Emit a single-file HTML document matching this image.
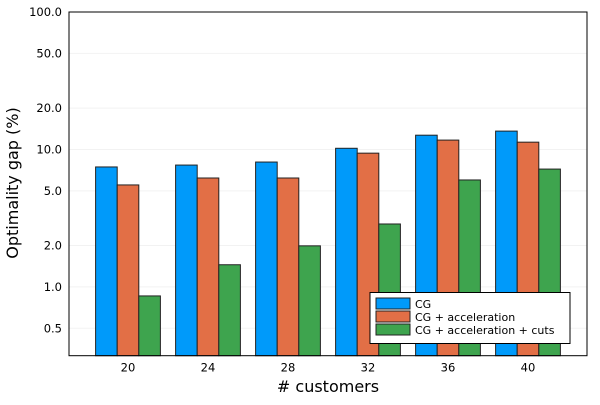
<!DOCTYPE html>
<html><head><meta charset="utf-8"><style>
body{margin:0;background:#fff}
svg{font-family:"DejaVu Sans","Liberation Sans",sans-serif}
</style></head><body>
<svg id="chart" width="600" height="400">
<rect width="600" height="400" fill="#fff"/>
<g id="grid"></g><g id="bars"></g><g id="axes"></g>
<text x="328" y="392" font-size="16" text-anchor="middle"># customers</text>
<text transform="translate(18,183) rotate(-90)" font-size="16" text-anchor="middle">Optimality gap (%)</text>
<g id="legend"></g>
</svg>
<script>
const categories=["20","24","28","32","36","40"];
const seriesNames=["CG","CG + acceleration","CG + acceleration + cuts"];
const cg=[7.46,7.7,8.1,10.2,12.7,13.6];
const cgAcc=[5.52,6.2,6.2,9.4,11.7,11.3];
const cgAccCuts=[0.86,1.45,1.99,2.87,6.0,7.2];
const yTicks=[0.5,1,2,5,10,20,50,100];
const yTickLabels=["0.5","1.0","2.0","5.0","10.0","20.0","50.0","100.0"];
const colors=["#009AFA","#E26F46","#3EA44E"];
const L=69,R=587,T=12,B=355.7,yMin=0.316,yMax=100;
const NS="http://www.w3.org/2000/svg";
function y(v){return T+(Math.log10(yMax)-Math.log10(v))/(Math.log10(yMax)-Math.log10(yMin))*(B-T);}
const step=(R-L)/(categories.length-1+59*2/80);
function xc(i){return L+59/80*step+i*step;}
const bw=step*0.27;
function mk(t,a,p){const e=document.createElementNS(NS,t);for(const k in a)e.setAttribute(k,a[k]);p.appendChild(e);return e;}
const grid=document.getElementById('grid'),bars=document.getElementById('bars'),axes=document.getElementById('axes'),lg=document.getElementById('legend');
yTicks.forEach((v,i)=>{
 const gl=mk('line',{x1:L,x2:R,y1:y(v),y2:y(v),stroke:'#000','stroke-opacity':0.05},grid);
 
 
 const t=mk('text',{x:L-7,y:y(v)+4,'font-size':11.5,'text-anchor':'end'},axes);
 t.textContent=yTickLabels[i];
 
 
});
const series=[cg,cgAcc,cgAccCuts];
series.forEach((s,j)=>{s.forEach((v,i)=>{
 const x0=xc(i)+(j-1.5)*bw;
 const r=mk('rect',{x:x0,y:y(v),width:bw,height:B-y(v),fill:colors[j],stroke:'#222','stroke-width':1},bars);
 
 
});});
categories.forEach((c,i)=>{
 const t=mk('text',{x:xc(i),y:B+16,'font-size':11.5,'text-anchor':'middle'},axes);
 t.textContent=c;
 
 
});
const fr=mk('rect',{x:L,y:T,width:R-L,height:B-T,fill:'none',stroke:'#000','stroke-width':1},axes);


const lb=mk('rect',{x:370,y:292.5,width:200,height:51,fill:'#fff',stroke:'#000','stroke-width':1},lg);


seriesNames.forEach((n,j)=>{
 const yy=298+j*13;
 const sw=mk('rect',{x:376,y:yy,width:34,height:11,fill:colors[j],stroke:'#222'},lg);
 
 
 const t=mk('text',{x:415,y:yy+10,'font-size':11},lg);
 t.textContent=n;
 
 
});
</script>
</body></html>
